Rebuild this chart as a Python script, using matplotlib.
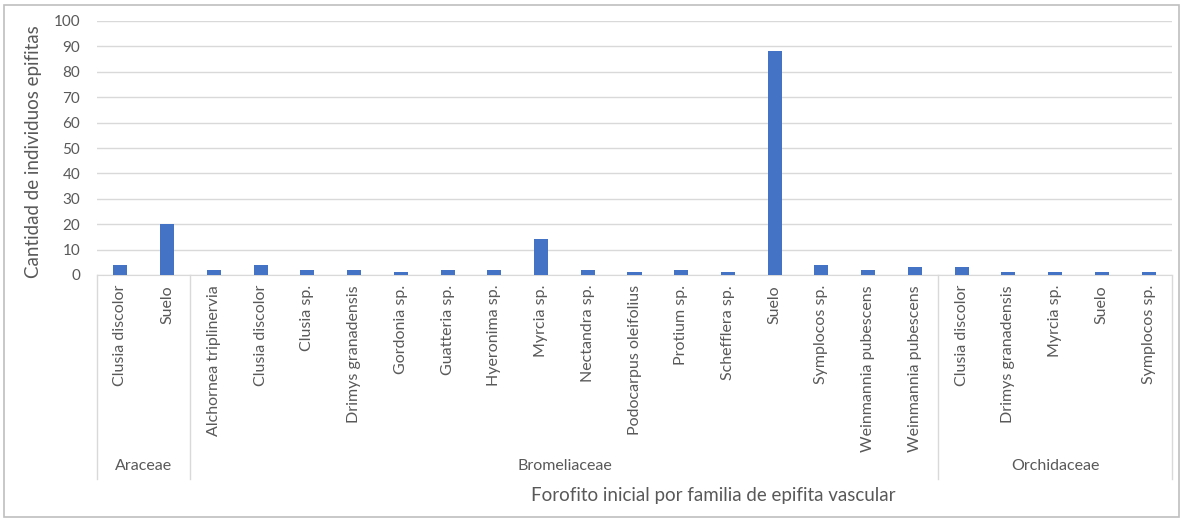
import matplotlib.pyplot as plt
import matplotlib.transforms as mtransforms
from matplotlib.patches import Rectangle

# datos: familia de epifita -> forofito inicial -> cantidad de individuos
familias = ['Araceae', 'Bromeliaceae', 'Orchidaceae']

araceae_sp = ['Clusia discolor', 'Suelo']
araceae_n = [4, 20]

bromeliaceae_sp = ['Alchornea triplinervia', 'Clusia discolor', 'Clusia sp.',
                   'Drimys granadensis', 'Gordonia sp.', 'Guatteria sp.',
                   'Hyeronima sp.', 'Myrcia sp.', 'Nectandra sp.',
                   'Podocarpus oleifolius', 'Protium sp.', 'Schefflera sp.',
                   'Suelo', 'Symplocos sp.', 'Weinmannia pubescens',
                   'Weinmannia pubescens']
bromeliaceae_n = [2, 4, 2, 2, 1, 2, 2, 14, 2, 1, 2, 1, 88, 4, 2, 3]

orchidaceae_sp = ['Clusia discolor', 'Drimys granadensis', 'Myrcia sp.',
                  'Suelo', 'Symplocos sp.']
orchidaceae_n = [3, 1, 1, 1, 1]

grupos = [araceae_sp, bromeliaceae_sp, orchidaceae_sp]
especies = araceae_sp + bromeliaceae_sp + orchidaceae_sp
valores = araceae_n + bromeliaceae_n + orchidaceae_n

gris_txt = '#595959'
gris_linea = '#D9D9D9'
fuente = ['Lato', 'DejaVu Sans']
plt.rcParams['font.family'] = fuente

W, H = 1181, 519
fig = plt.figure(figsize=(W / 100, H / 100), dpi=100)

# marco exterior del grafico
fig.patches.append(Rectangle((4 / W, 1 - 517 / H), 1175 / W, 512 / H,
                             transform=fig.transFigure, fill=False,
                             edgecolor='#BFBFBF', linewidth=1.2))

x0, x1, y0, y1 = 97, 1172, 275, 21
ax = fig.add_axes([x0 / W, 1 - y0 / H, (x1 - x0) / W, (y0 - y1) / H])

n = len(especies)
pos = list(range(n))
ax.bar(pos, valores, width=0.3, color='#4472C4', zorder=3)

ax.set_xlim(-0.5, n - 0.5)
ax.set_ylim(0, 100)
ax.set_yticks(range(0, 101, 10))
ax.yaxis.grid(True, color=gris_linea, linewidth=1)
ax.set_axisbelow(True)
for lado in ['top', 'right', 'left']:
    ax.spines[lado].set_visible(False)
ax.spines['bottom'].set_color(gris_linea)
ax.tick_params(axis='y', length=0, labelsize=11, labelcolor=gris_txt, pad=12)
ax.set_xticks([])

trans = mtransforms.blended_transform_factory(ax.transData, ax.transAxes)
alto = y0 - y1

# etiquetas de especies (giradas)
for i, sp in enumerate(especies):
    ax.text(i, -(285 - y0) / alto, sp, transform=trans,
            rotation=90, ha='center', va='top', fontsize=11.5,
            color=gris_txt, clip_on=False)

# separadores y nombres de familia
y_fin = -(479 - y0) / alto
inicio = -0.5
ax.plot([inicio, inicio], [0, y_fin], transform=trans, color=gris_linea,
        linewidth=1, clip_on=False)
for fam, sp in zip(familias, grupos):
    fin = inicio + len(sp)
    ax.plot([fin, fin], [0, y_fin], transform=trans, color=gris_linea,
            linewidth=1, clip_on=False)
    ax.text((inicio + fin) / 2, -(466 - y0) / alto, fam, transform=trans,
            ha='center', va='center', fontsize=11.5, color=gris_txt,
            clip_on=False)
    inicio = fin

fig.text(713 / W, 1 - 495 / H,
         'Forofito inicial por familia de epifita vascular',
         ha='center', va='center', fontsize=13.5, color=gris_txt)
fig.text(34 / W, 1 - 152 / H, 'Cantidad de individuos epifitas',
         rotation=90, ha='center', va='center', fontsize=13.5, color=gris_txt)

fig.savefig('out.png', dpi=100)
